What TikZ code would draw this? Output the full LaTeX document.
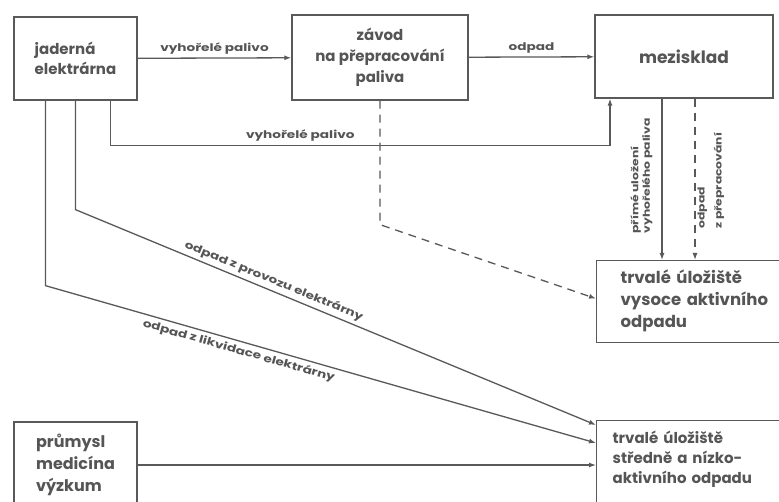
\documentclass[tikz,border=0pt]{standalone}
\usepackage{fontspec}
\setmainfont{Poppins}
\newfontfamily\labelfont{Poppins}[FakeStretch=1.3]
\usepackage{xcolor}
\usepackage{tikz}
\usetikzlibrary{arrows.meta, positioning, calc}
\definecolor{inkgray}{HTML}{555555}
\definecolor{linegray}{HTML}{595959}
\tikzstyle{facility} = [rectangle, draw=linegray, line width=1.3pt, text=inkgray, align=center, font=\bfseries\fontsize{15}{21}\selectfont]
\tikzstyle{store} = [rectangle, draw=linegray, line width=1.3pt, text=inkgray, align=left, inner ysep=0pt, font=\bfseries\fontsize{16.5}{22}\selectfont]
\tikzstyle{arrow} = [line width=1.3pt, draw=linegray, -{Latex[length=7pt,width=5pt]}]
\tikzstyle{dasharrow} = [arrow, dash pattern=on 8pt off 6pt]
\tikzstyle{flowlabel} = [text=inkgray, font=\labelfont\bfseries\fontsize{10.5}{12}\selectfont]

\begin{document}
\begin{tikzpicture}[x=1pt, y=-1pt]
    \useasboundingbox[fill=white] (0,0) rectangle (779,502);
    \node (elek) [facility, align=left, minimum width=123pt, minimum height=83pt, font=\bfseries\fontsize{15}{20}\selectfont] at (75.5,58.5) {jaderná\\elektrárna};
    \node (zavod) [facility, minimum width=176pt, minimum height=85pt] at (380,57.5) {závod\\na přepracování\\paliva};
    \node (mezi) [facility, minimum width=178pt, minimum height=83pt, font=\bfseries\fontsize{17}{21}\selectfont] at (684,56.5) {mezisklad};
    \node (vysoce) [store, anchor=north west, text width=170pt, inner xsep=24pt, text height=23pt, text depth=59pt] at (596,260) {trvalé úložiště\\vysoce aktivního\\odpadu};
    \node (stredne) [store, anchor=north west, text width=175pt, inner xsep=16pt, text height=23pt, text depth=90pt, font=\bfseries\fontsize{15}{20}\selectfont] at (596,420) {trvalé úložiště\\středně a nízko-\\aktivního odpadu};
    \node (prumysl) [facility, align=left, minimum width=123pt, minimum height=86pt, font=\bfseries\fontsize{16}{22}\selectfont] at (75.5,465) {průmysl\\medicína\\výzkum};

    \draw [arrow] (elek) -- node[flowlabel, above] {vyhořelé palivo} (zavod);
    \draw [arrow] (zavod) -- node[flowlabel, above] {odpad} (mezi);
    \draw [arrow] ([xshift=35pt]elek.south) -- ++(0,45) -| node[flowlabel, above, pos=0.19] {vyhořelé palivo} ([xshift=-74pt]mezi.south);
    \draw [dasharrow] (zavod.south) -- ++(0,124) -- ([yshift=3pt]vysoce.west);
    \draw [arrow] ([xshift=-22pt]mezi.south) -- node[flowlabel, rotate=90, anchor=south west, align=left, inner ysep=9pt, pos=0.86, font=\labelfont\bfseries\fontsize{9.5}{11.5}\selectfont] {přímé uložení\\vyhořelého paliva} ([xshift=-22pt]mezi.south |- vysoce.north);
    \draw [dasharrow] ([xshift=11pt]mezi.south) -- node[flowlabel, rotate=90, anchor=north west, align=left, inner ysep=2pt, pos=0.83, font=\labelfont\bfseries\fontsize{9.5}{17}\selectfont] {odpad\\z přepracování} ([xshift=11pt]mezi.south |- vysoce.north);
    \draw [arrow] (elek.south) -- ++(0,109) -- node[flowlabel, sloped, above, pos=0.374] {odpad z provozu elektrárny} ([yshift=-5pt]stredne.north west);
    \draw [arrow] ([xshift=-30pt]elek.south) -- ++(0,185) -- node[flowlabel, sloped, below, pos=0.356] {odpad z likvidace elektrárny} ([yshift=-23pt]stredne.north west);
    \draw [arrow] (prumysl) -- (stredne.west |- prumysl.east);
\end{tikzpicture}
\end{document}
